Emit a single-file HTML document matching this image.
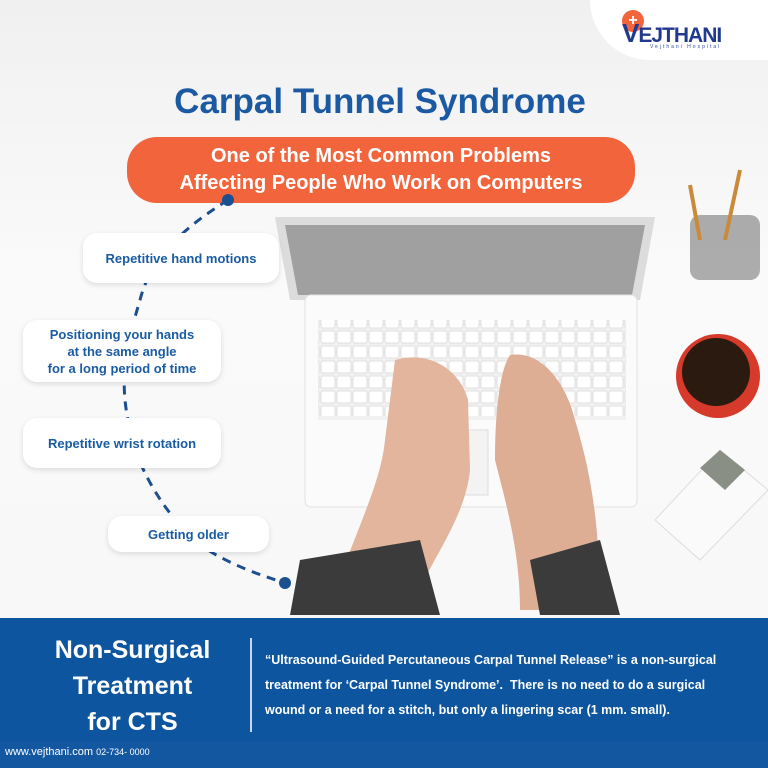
<!DOCTYPE html>
<html><head><meta charset="utf-8"><style>
*{margin:0;padding:0;box-sizing:border-box}
body{width:768px;height:768px;overflow:hidden;position:relative;background:linear-gradient(180deg,#f0f0f0 0%,#fafafa 35%,#f7f7f7 100%);font-family:"Liberation Sans",sans-serif}
.abs{position:absolute}
.pill{position:absolute;background:#fff;border-radius:14px;box-shadow:0 2px 6px rgba(0,0,0,.12);color:#1a5ca3;font-weight:bold;font-size:13px;display:flex;align-items:center;justify-content:center;text-align:center;line-height:17px}
</style></head><body>
<div class="abs" style="left:590px;top:0;width:178px;height:60px;background:#fff;border-bottom-left-radius:60px"></div>
<div class="abs" style="left:622px;top:10px;width:22px;height:22px;border-radius:50%;background:#f2643c;color:#fff;font-size:16px;text-align:center;line-height:22px;font-weight:bold">+</div>
<div class="abs" style="left:622px;top:18px;font-size:26px;font-weight:bold;color:#213a8f;letter-spacing:-1px">V<span style="font-size:21px">EJTHANI</span></div>
<div class="abs" style="left:650px;top:44px;font-size:5px;color:#2a4ea0;letter-spacing:2px">Vejthani Hospital</div>

<div class="abs" style="left:0;top:82px;width:760px;text-align:center;font-size:35px;font-weight:bold;color:#1b5aa2">Carpal Tunnel Syndrome</div>
<div class="abs" style="left:127px;top:137px;width:508px;height:66px;border-radius:30px;background:#f2653c;color:#fff;font-weight:bold;font-size:20px;text-align:center;line-height:27px;padding-top:6px">One of the Most Common Problems<br>Affecting People Who Work on Computers</div>

<svg class="abs" style="left:0;top:0" width="768" height="620">
<defs><pattern id="k" width="16" height="15" patternUnits="userSpaceOnUse"><rect x="1" y="1" width="14" height="12" rx="2" fill="#fff" stroke="#d8d8d8" stroke-width=".8"/></pattern></defs>
<path d="M228 200 C180 230,150 260,140 300 C125 350,120 380,128 420 C135 470,170 520,200 545 C230 565,260 575,285 583" fill="none" stroke="#1b4f90" stroke-width="3" stroke-dasharray="9 7"/>
<circle cx="228" cy="200" r="6" fill="#1b4f90"/><circle cx="285" cy="583" r="6" fill="#1b4f90"/>
<polygon points="275,217 655,217 640,300 290,300" fill="#dcdcdc"/>
<polygon points="285,225 645,225 632,295 298,295" fill="#a0a0a0"/>
<rect x="305" y="295" width="332" height="212" rx="6" fill="#fbfbfb" stroke="#e2e2e2"/>
<rect x="318" y="320" width="308" height="100" fill="#f1f1f1"/>
<rect x="318" y="320" width="308" height="96" fill="url(#k)"/>
<rect x="418" y="430" width="70" height="65" fill="#f3f3f3" stroke="#ddd"/>
<path d="M395 360 C430 350,460 370,468 400 L470 470 C465 520,430 560,410 610 L330 610 C350 540,380 490,385 440 Z" fill="#e2b59c"/>
<path d="M510 355 C540 350,565 380,575 420 C590 470,600 520,600 610 L520 610 C520 550,505 500,495 460 C495 410,500 370,510 355Z" fill="#deae94"/>
<path d="M300 560 L420 540 L440 615 L290 615 Z" fill="#3b3b3b"/>
<path d="M530 560 L600 540 L620 615 L540 615 Z" fill="#3b3b3b"/>
<circle cx="718" cy="376" r="42" fill="#d63a2a"/><circle cx="716" cy="372" r="34" fill="#2a1a10"/>
<rect x="690" y="215" width="70" height="65" rx="10" fill="#8a8a8a" opacity=".7"/>
<line x1="700" y1="240" x2="690" y2="185" stroke="#c98a3c" stroke-width="4"/>
<line x1="725" y1="240" x2="740" y2="170" stroke="#c98a3c" stroke-width="4"/>
<polygon points="655,520 720,450 768,490 700,560" fill="#fafafa" stroke="#ddd"/>
<polygon points="700,468 720,450 745,470 725,490" fill="#8a8f86"/>
</svg>

<div class="pill" style="left:83px;top:233px;width:196px;height:50px">Repetitive hand motions</div>
<div class="pill" style="left:23px;top:320px;width:198px;height:62px">Positioning your hands<br>at the same angle<br>for a long period of time</div>
<div class="pill" style="left:23px;top:418px;width:198px;height:50px">Repetitive wrist rotation</div>
<div class="pill" style="left:108px;top:516px;width:161px;height:36px">Getting older</div>

<div class="abs" style="left:0;top:618px;width:768px;height:150px;background:#0d559e"></div>
<div class="abs" style="left:0;top:741px;width:768px;height:27px;background:#1457a1"></div>
<div class="abs" style="left:10px;top:632px;width:245px;text-align:center;color:#fff;font-weight:bold;font-size:25px;line-height:36px">Non-Surgical<br>Treatment<br>for CTS</div>
<div class="abs" style="left:250px;top:638px;width:2px;height:94px;background:#c8d6ea"></div>
<div class="abs" style="left:265px;top:648px;color:#fff;font-weight:bold;font-size:12.5px;line-height:25px;white-space:nowrap">“Ultrasound-Guided Percutaneous Carpal Tunnel Release” is a non-surgical<br>treatment for ‘Carpal Tunnel Syndrome’.&nbsp; There is no need to do a surgical<br>wound or a need for a stitch, but only a lingering scar (1 mm. small).</div>
<div class="abs" style="left:5px;top:746px;color:#fff;font-size:11px">www.vejthani.com <span style="font-size:9px">02-734- 0000</span></div>
</body></html>
